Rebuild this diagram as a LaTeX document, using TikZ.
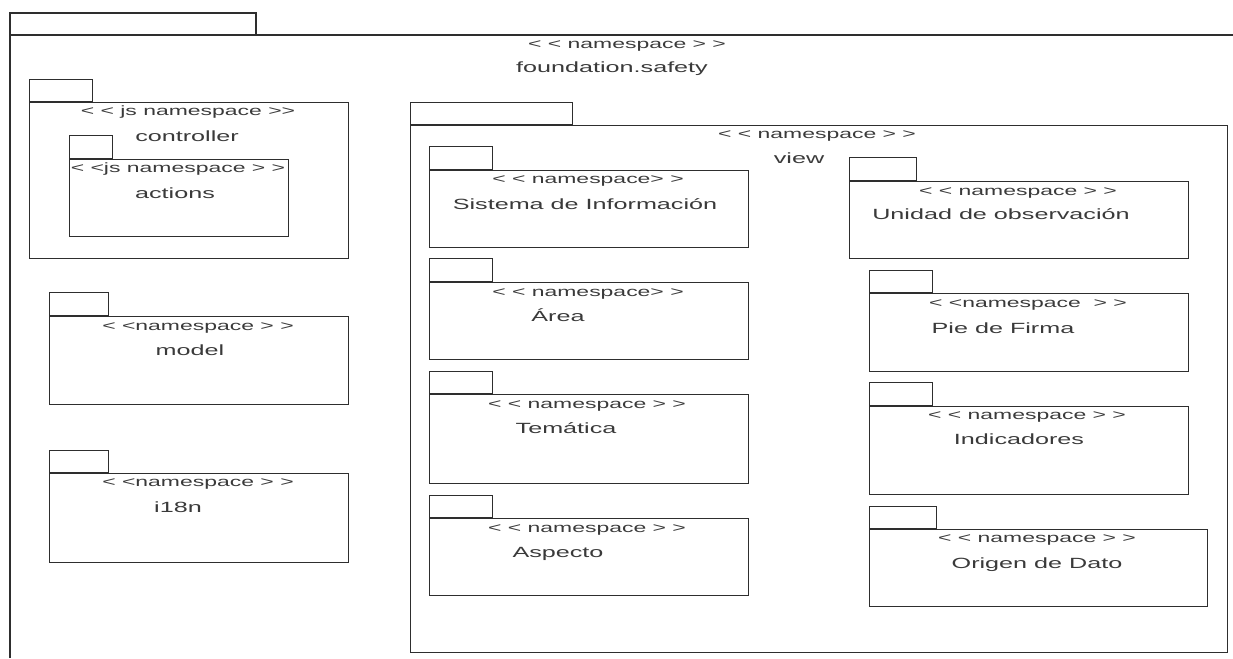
\documentclass[tikz,border=0pt]{standalone}
\usepackage{fontspec}
\newfontfamily\umlfont[FakeStretch=1.7]{Liberation Sans}
\definecolor{linegray}{HTML}{2E2E2E}
\definecolor{textgray}{HTML}{3A3A3A}
\newcommand\stfont{\umlfont\fontsize{13.5}{16}\selectfont}
\newcommand\nmfont{\umlfont\fontsize{14.8}{17}\selectfont}
\tikzset{
  pkgline/.style={draw=linegray, line width=1.4pt},
  pkgbody/.style={pkgline, rectangle, inner sep=0pt, anchor=north west},
  pkgtab/.style={pkgline, rectangle, inner sep=0pt, anchor=south west},
  stereo/.style={font=\stfont, text=textgray, inner sep=0pt, anchor=base},
  pkgname/.style={font=\nmfont, text=textgray, inner sep=0pt, anchor=base}
}
\begin{document}
\begin{tikzpicture}[x=1pt, y=-1pt]
      \useasboundingbox (0,0) rectangle (1233,658);

      % foundation.safety, runs off the page
      \draw[pkgline] (10,13) rectangle (256,35);
      \draw[pkgline] (10,658) |- (1233,35);

      \foreach \nm/\l/\tt/\tr/\bt/\r/\bb in {
          ctrl/29/80/92/102/348/258, act/69/136/112/159/288/236,
          model/49/293/108/316/348/404, itn/49/451/108/473/348/562,
          view/410/103/572/125/1227/652,
          sis/429/147/492/170/748/247, area/429/259/492/282/748/359,
          tem/429/372/492/394/748/483, asp/429/496/492/518/748/595,
          uni/849/158/916/181/1188/258, pie/869/271/932/293/1188/371,
          ind/869/383/932/406/1188/494, ori/869/507/936/529/1207/606}{
        \pgfmathsetmacro\w{\r-\l}
        \pgfmathsetmacro\h{\bb-\bt}
        \pgfmathsetmacro\tw{\tr-\l}
        \pgfmathsetmacro\th{\bt-\tt}
        \node[pkgbody, minimum width=\w pt, minimum height=\h pt] (\nm) at (\l,\bt) {};
        \node[pkgtab, minimum width=\tw pt, minimum height=\th pt] (\nm-tab) at (\nm.north west) {};
      }

      \foreach \nm/\sx/\sy/\st/\nx/\ny/\txt in {
          fs/627/49/{< < namespace > >}/612/73/{foundation.safety},
          ctrl/188/116/{< < js namespace >>}/187/142/{controller},
          act/178/172/{< <js namespace > >}/175/198/{actions},
          model/198/330/{< <namespace > >}/190/355/{model},
          itn/198/486/{< <namespace > >}/178/512/{i18n},
          view/817/139/{< < namespace > >}/799/163/{view},
          sis/588/183/{< < namespace> >}/585/209/{Sistema de Información},
          area/588/296/{< < namespace> >}/558/321/{Área},
          tem/587/408/{< < namespace > >}/566/433/{Temática},
          asp/587/532/{< < namespace > >}/558/557/{Aspecto},
          uni/1018/195/{< < namespace > >}/1001/219/{Unidad de observación},
          pie/1028/307/{< <namespace \ > >}/1003/333/{Pie de Firma},
          ind/1027/419/{< < namespace > >}/1019/444/{Indicadores},
          ori/1037/542/{< < namespace > >}/1037/568/{Origen de Dato}}{
        \node[stereo] (\nm-st) at (\sx,\sy) {\st};
        \node[pkgname] (\nm-nm) at (\nx,\ny) {\txt};
      }
\end{tikzpicture}
\end{document}
